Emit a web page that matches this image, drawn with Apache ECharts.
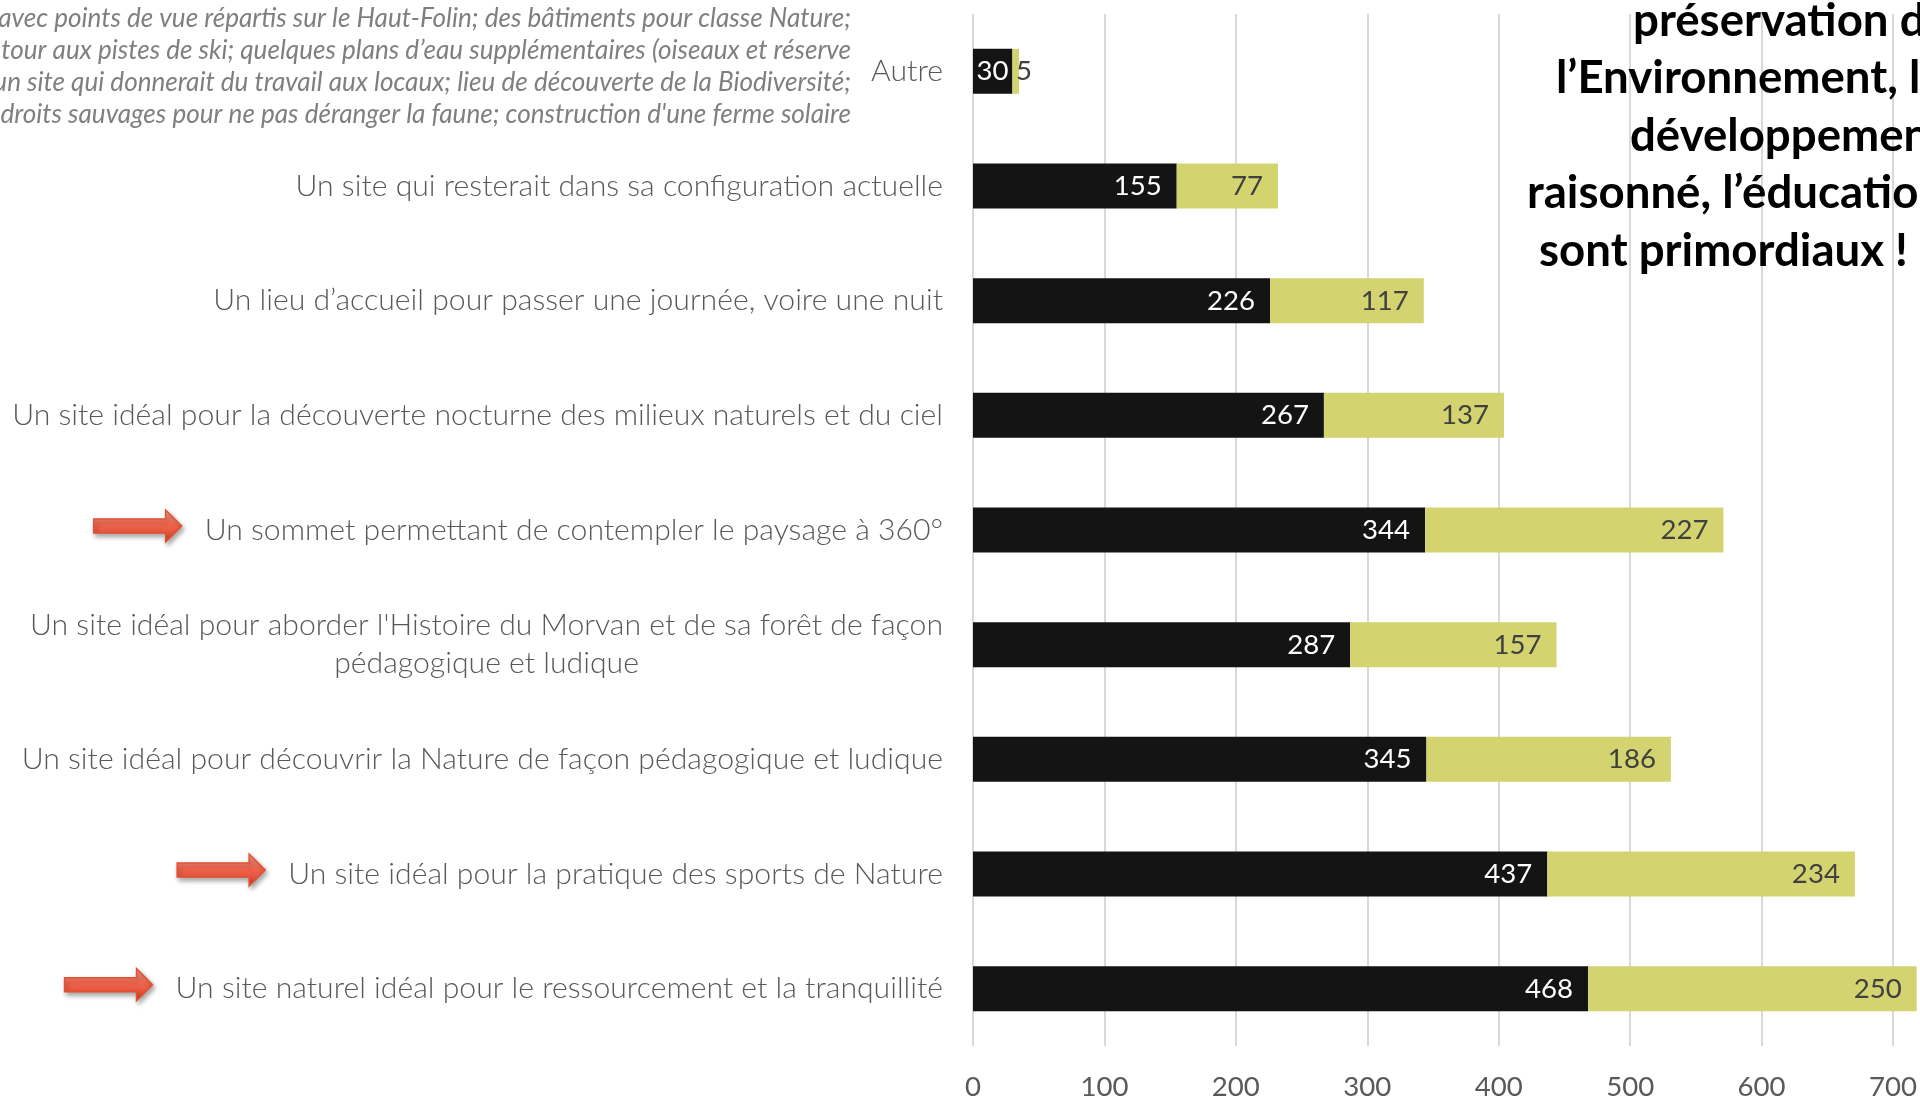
<!DOCTYPE html>
<html>
<head>
<meta charset="utf-8">
<script src="https://cdn.jsdelivr.net/npm/echarts@6/dist/echarts.min.js"></script>
<style>
  html, body { margin: 0; padding: 0; background: #fff; }
  #main { width: 1920px; height: 1099px; }
</style>
</head>
<body>
<div id="main"></div>
<script>
// categories, bottom row first (category axis runs upward)
const categories = [
  'Un site naturel idéal pour le ressourcement et la tranquillité',
  'Un site idéal pour la pratique des sports de Nature',
  'Un site idéal pour découvrir la Nature de façon pédagogique et ludique',
  "Un site idéal pour aborder l'Histoire du Morvan et de sa forêt de façon\npédagogique et ludique",
  'Un sommet permettant de contempler le paysage à 360°',
  'Un site idéal pour la découverte nocturne des milieux naturels et du ciel',
  'Un lieu d’accueil pour passer une journée, voire une nuit',
  'Un site qui resterait dans sa configuration actuelle',
  'Autre'
]
const blackValues = [468, 437, 345, 287, 344, 267, 226, 155, 30]
const yellowValues = [250, 234, 186, 157, 227, 137, 117, 77, 5]
const xTicks = { min: 0, max: 700, interval: 100 }
const arrowRows = [0, 1, 4] // rows with a red arrow

const autreNote = [
  'avec points de vue répartis sur le Haut-Folin; des bâtiments pour classe Nature;',
  'tour aux pistes de ski; quelques plans d’eau supplémentaires (oiseaux et réserve',
  'un site qui donnerait du travail aux locaux; lieu de découverte de la Biodiversité;',
  "droits sauvages pour ne pas déranger la faune; construction d'une ferme solaire"
]
const sideNote = [
  'préservation de',
  'l’Environnement, le',
  'développement',
  'raisonné, l’éducation',
  'sont primordiaux !'
]

const FONT = 'Lato, "Open Sans", sans-serif'
const ctx = document.createElement('canvas').getContext('2d')
function textWidth(text, size, weight, style) {
  ctx.font = (style || 'normal') + ' ' + (weight || 'normal') + ' ' + size + 'px ' + FONT
  return ctx.measureText(text).width
}
// font size so that text spans the width seen in the picture
function fitSize(text, width, weight, style) {
  return Math.round((width / textWidth(text, 100, weight, style)) * 1000) / 10
}

const labelSize = fitSize(categories[5], 932, 300)
const numSize = fitSize('468', 48)
const noteSize = fitSize(autreNote[1], 851, 'normal', 'italic')
const boldSize = fitSize(sideNote[4], 369, 'bold')

const chartDom = document.getElementById('main')
const myChart = echarts.init(chartDom)

let option = {
  animation: false,
  grid: { left: 973, right: 27, top: 14, bottom: 53, outerBoundsMode: 'none' },
  xAxis: {
    type: 'value',
    min: xTicks.min,
    max: xTicks.max,
    interval: xTicks.interval,
    axisLine: { show: false },
    axisTick: { show: false },
    splitLine: { show: true, lineStyle: { color: '#d9d9d9', width: 2 } },
    axisLabel: { color: '#595959', fontSize: numSize, fontFamily: FONT, margin: 27 }
  },
  yAxis: {
    type: 'category',
    data: categories,
    axisLine: { show: false },
    axisTick: { show: false },
    axisLabel: {
      interval: 0,
      margin: 30,
      color: '#595959',
      fontSize: labelSize,
      fontWeight: 300,
      fontFamily: FONT,
      formatter: function (value) {
        if (value.indexOf('\n') < 0) return value
        return value.split('\n').map(s => '{c|' + s + '}').join('\n')
      },
      rich: {
        c: { align: 'center', color: '#595959', fontSize: labelSize, fontWeight: 300, fontFamily: FONT, lineHeight: 38 }
      }
    }
  },
  series: [
    {
      name: 'noir',
      type: 'bar',
      stack: 'total',
      barWidth: 45,
      clip: false,
      itemStyle: { color: '#141414' },
      label: { show: true, position: 'insideRight', distance: 15, color: '#fff', fontSize: numSize, fontFamily: FONT },
      data: blackValues.map((v, i) => (i === 8 ? { value: v, label: { distance: 4 } } : v))
    },
    {
      name: 'jaune',
      type: 'bar',
      stack: 'total',
      barWidth: 45,
      clip: false,
      itemStyle: { color: '#d3d36f' },
      label: { show: true, position: 'insideRight', distance: 15, color: '#404040', fontSize: numSize, fontFamily: FONT },
      data: yellowValues.map((v, i) => (i === 8 ? { value: v, label: { position: 'right', distance: -3 } } : v))
    }
  ]
}
option && myChart.setOption(option)

// text boxes + arrows placed after the axes exist
const labelRight = myChart.convertToPixel({ xAxisIndex: 0 }, 0) - 30
const graphics = []

autreNote.forEach((line, k) => {
  graphics.push({
    type: 'text',
    x: 851,
    y: 19 + k * 31.8,
    style: {
      text: line,
      fill: '#7f7f7f',
      font: 'italic normal ' + noteSize + 'px ' + FONT,
      textAlign: 'right',
      textVerticalAlign: 'middle'
    }
  })
})

const sideStart = [1633, 1556, 1630, 1527, 1539]
sideNote.forEach((line, k) => {
  graphics.push({
    type: 'text',
    x: sideStart[k],
    y: 21 + k * 57.5,
    z: 100,
    style: {
      text: line,
      fill: '#000',
      font: 'normal bold ' + boldSize + 'px ' + FONT,
      textAlign: 'left',
      textVerticalAlign: 'middle'
    }
  })
})

arrowRows.forEach(i => {
  const y = myChart.convertToPixel({ yAxisIndex: 0 }, i) - 4
  const right = labelRight - textWidth(categories[i], labelSize, 300) - 23
  const left = right - 88
  const neck = right - 16
  graphics.push({
    type: 'polygon',
    shape: {
      points: [[left, y - 7], [neck, y - 7], [neck, y - 16], [right, y], [neck, y + 16], [neck, y + 7], [left, y + 7]]
    },
    style: {
      fill: new echarts.graphic.LinearGradient(0, 0, 0, 1, [
        { offset: 0, color: '#f9a28f' },
        { offset: 0.45, color: '#f1664e' },
        { offset: 1, color: '#dc4329' }
      ]),
      stroke: '#e2502f',
      lineWidth: 1.5,
      shadowBlur: 5,
      shadowColor: 'rgba(0,0,0,0.35)',
      shadowOffsetX: 2,
      shadowOffsetY: 3
    }
  })
})

myChart.setOption({ graphic: graphics })
</script>
</body>
</html>
